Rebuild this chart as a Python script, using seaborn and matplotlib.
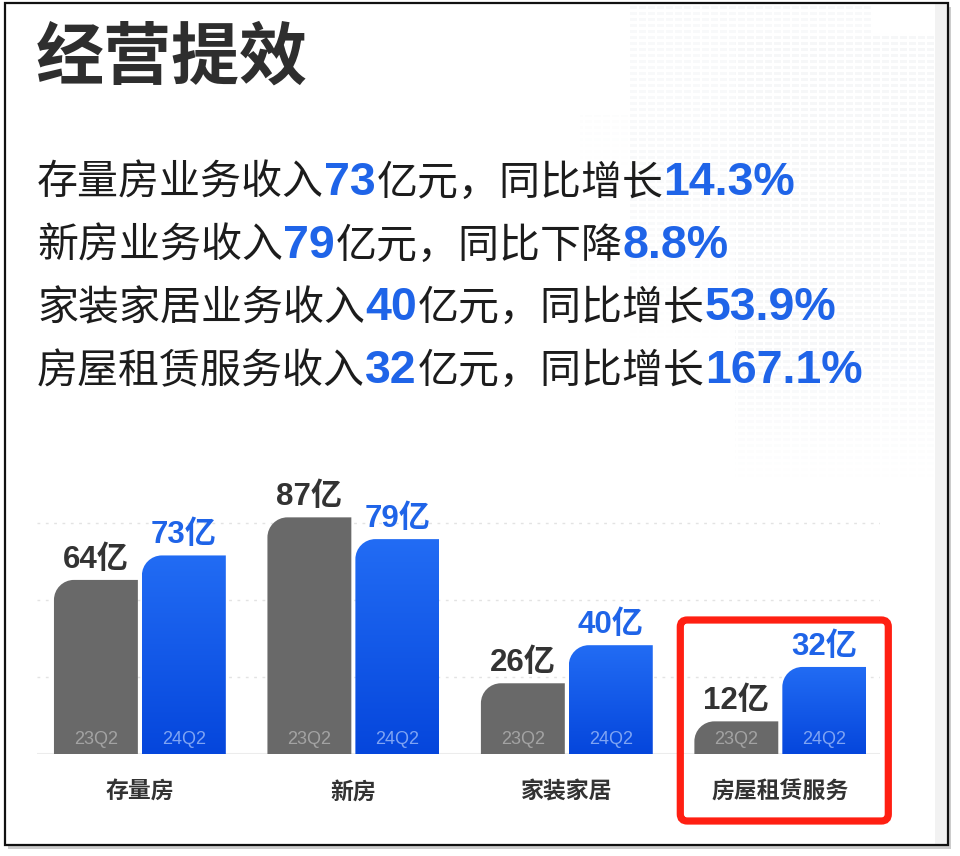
import numpy as np
import pandas as pd
import matplotlib
matplotlib.use("Agg")
import matplotlib.pyplot as plt
import matplotlib.text as mtext
import seaborn as sns
from matplotlib.path import Path
from matplotlib.patches import PathPatch, Rectangle, FancyBboxPatch
from matplotlib.transforms import Affine2D
from matplotlib.colors import LinearSegmentedColormap

# ---------------- data ----------------
categories = ["存量房", "新房", "家装家居", "房屋租赁服务"]
periods = ["23Q2", "24Q2"]
values_23q2 = [64, 87, 26, 12]
values_24q2 = [73, 79, 40, 32]

summary_names = ["存量房业务收入", "新房业务收入", "家装家居业务收入", "房屋租赁服务收入"]
summary_trend = ["增长", "下降", "增长", "增长"]
summary_yoy = ["14.3%", "8.8%", "53.9%", "167.1%"]

title = "经营提效"
grid_levels = [28.3, 56.7, 85]
highlight_idx = 3

# ---------------- style ----------------
sns.set_style("white")
CJK = "Noto Sans CJK SC"
plt.rcParams["font.family"] = [CJK, "DejaVu Sans"]
NUMFONT = ["Liberation Sans", CJK, "DejaVu Sans"]

GRAY = "#696969"
BLUE_TOP = "#226CF4"
BLUE_BOT = "#0546DC"
BLUE_TXT = "#1F64E8"
DARK = "#333333"

W, H = 960, 856
fig = plt.figure(figsize=(W / 100, H / 100), dpi=100)
fig.patch.set_facecolor("white")
# top-left pixel coordinate transform
pix = Affine2D().scale(1 / W, -1 / H).translate(0, 1) + fig.transFigure

# ---------------- frame ----------------
fig.patches.append(Rectangle((8, 7), 943, 842, transform=pix, facecolor="#9a9a9a",
                             edgecolor="none", alpha=0.5, zorder=-3))
fig.patches.append(Rectangle((5, 3), 943, 842, transform=pix, facecolor="white",
                             edgecolor="none", zorder=-2))
fig.patches.append(Rectangle((935, 4), 12, 840, transform=pix, facecolor="#f2f2f2",
                             edgecolor="none", zorder=-1))
fig.patches.append(Rectangle((5, 3), 943, 842, transform=pix, facecolor="none",
                             edgecolor="#111111", lw=1.6, zorder=10))

# ---------------- faint decorative building pattern ----------------
yy, xx = np.indices((H, W))
alpha = np.zeros((H, W))
win = ((xx % 9) < 7) & ((yy % 6) < 3)
for (bx0, bx1, by0, by1, a) in [(628, 873, 6, 340, 0.55), (735, 935, 33, 480, 0.75),
                                (580, 660, 115, 170, 0.45)]:
    m = (xx >= bx0) & (xx < bx1) & (yy >= by0) & (yy < by1) & win
    fade = np.clip((by1 - yy) / 140.0, 0, 1)
    alpha = np.maximum(alpha, np.where(m, a * fade, 0))
rgba = np.zeros((H, W, 4))
rgba[..., 0] = 0.90
rgba[..., 1] = 0.91
rgba[..., 2] = 0.93
rgba[..., 3] = alpha * 0.45
bgax = fig.add_axes([0, 0, 1, 1], zorder=-1.5)
bgax.imshow(rgba, aspect="auto", interpolation="nearest")
bgax.set_axis_off()

# ---------------- title & summary ----------------
fig.text(36, 79, title, transform=pix, fontsize=49, fontweight="black",
         color="#2e2e2e", ha="left", va="baseline", family=[CJK])

baselines = [195, 258, 320, 383]
for i in range(4):
    yb = baselines[i]
    t = fig.text(37, yb, summary_names[i], transform=pix, fontsize=29.5,
                 color="#1c1c1c", ha="left", va="baseline", family=[CJK])
    pieces = [(str(values_24q2[i]), True), ("亿元，同比" + summary_trend[i], False),
              (summary_yoy[i], True)]
    for txt, bold in pieces:
        if bold:
            kw = dict(fontsize=33.5, fontweight="bold", color=BLUE_TXT, family=NUMFONT)
        else:
            kw = dict(fontsize=29.5, color="#1c1c1c", family=[CJK])
        ann = mtext.Annotation(txt, xy=(1, yb), xycoords=(t, pix),
                               xytext=(0 if bold else 1, 0), textcoords="offset pixels",
                               ha="left", va="baseline", **kw)
        fig.add_artist(ann)
        t = ann

# ---------------- bar chart ----------------
ax = fig.add_axes([37 / W, (H - 754) / H, (880 - 37) / W, (754 - 482) / H])
ax.set_zorder(2)
ax.set_facecolor("none")

df = pd.DataFrame({
    "category": categories * 2,
    "period": [periods[0]] * 4 + [periods[1]] * 4,
    "value": values_23q2 + values_24q2,
})
sns.barplot(data=df, x="category", y="value", hue="period", order=categories,
            hue_order=periods, palette={periods[0]: GRAY, periods[1]: BLUE_BOT},
            width=0.824, gap=0.046, legend=False, ax=ax, saturation=1)

XL = (-0.482, 3.467)
ax.set_xlim(*XL)
ax.set_ylim(0, 100)
ax.set_xlabel("")
ax.set_ylabel("")
ax.set_yticks([])
for s in ax.spines.values():
    s.set_visible(False)
for g in grid_levels:
    ax.axhline(g, color="#e3e3e3", lw=1.0, ls=(0, (2, 4)), zorder=0)
ax.axhline(0, color="#ececec", lw=1.5, zorder=0)

ax.tick_params(axis="x", length=0, pad=19)
for lab in ax.get_xticklabels():
    lab.set_fontsize(16.5)
    lab.set_fontweight("bold")
    lab.set_color(DARK)
    lab.set_family([CJK])

# pixel per data unit (layout pixels)
x_ppu = (880 - 37) / (XL[1] - XL[0])
y_ppu = (754 - 482) / 100
R = 20.0
rx, ry = R / x_ppu, R / y_ppu
k = 0.5523

cmap_blue = LinearSegmentedColormap.from_list("b", [BLUE_BOT, BLUE_TOP])
bars = list(ax.patches)
for j, p in enumerate(bars):
    x0, y0 = p.get_x(), p.get_y()
    w, h = p.get_width(), p.get_height()
    x1, y1 = x0 + w, y0 + h
    verts = [(x0, y0), (x0, y1 - ry), (x0, y1 - ry + k * ry), (x0 + rx - k * rx, y1),
             (x0 + rx, y1), (x1, y1), (x1, y0), (x0, y0)]
    codes = [Path.MOVETO, Path.LINETO, Path.CURVE4, Path.CURVE4, Path.CURVE4,
             Path.LINETO, Path.LINETO, Path.CLOSEPOLY]
    path = Path(verts, codes)
    is_blue = j >= len(categories)
    p.set_visible(False)
    if is_blue:
        patch = PathPatch(path, facecolor="none", edgecolor="none", transform=ax.transData)
        ax.add_patch(patch)
        grad = np.linspace(0, 1, 256).reshape(-1, 1)
        im = ax.imshow(grad, extent=(x0, x1, y0, y1), cmap=cmap_blue, aspect="auto",
                       origin="lower", zorder=2, vmin=0, vmax=1)
        im.set_clip_path(patch)
        lab_col = "#7fa4f3"
        val_col = BLUE_TXT
    else:
        patch = PathPatch(path, facecolor=GRAY, edgecolor="none", transform=ax.transData,
                          zorder=2)
        ax.add_patch(patch)
        lab_col = "#a3a3a3"
        val_col = DARK
    xc = x0 + w / 2
    ax.text(xc, 5.2, periods[1] if is_blue else periods[0], ha="center", va="center",
            fontsize=13, color=lab_col, family=["Liberation Sans", "DejaVu Sans"], zorder=3)
    ax.annotate(f"{int(round(h))}亿", xy=(xc, y1), xytext=(0, 12), textcoords="offset pixels",
                ha="center", va="baseline", fontsize=22.5, fontweight="bold", color=val_col,
                family=NUMFONT, zorder=3)

ax.set_xlim(*XL)
ax.set_ylim(0, 100)

# highlight box around last category (pixel layout)
cx_pix = 37 + (highlight_idx - XL[0]) * x_ppu
fig.patches.append(FancyBboxPatch((cx_pix - 100, 620), 208, 201, transform=pix,
                                  boxstyle="round,pad=0,rounding_size=7",
                                  facecolor="none", edgecolor="#FF1F12", lw=5.2, zorder=11))

fig.savefig("out.png", dpi=100, facecolor="white")
